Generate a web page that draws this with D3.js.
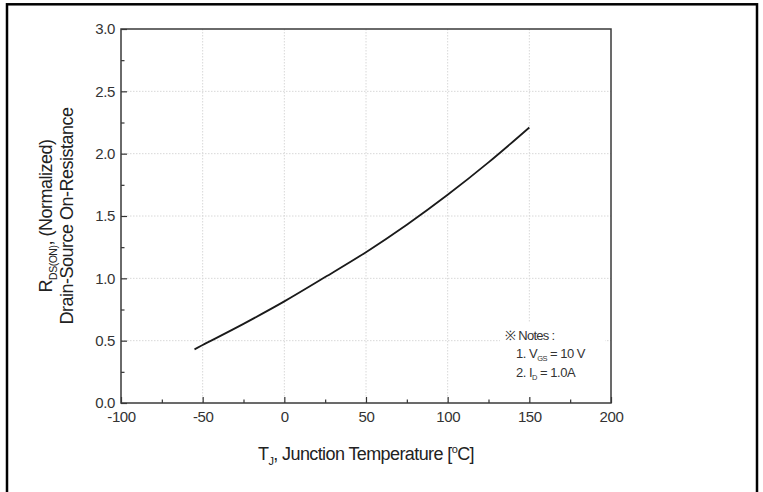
<!DOCTYPE html>
<html>
<head>
<meta charset="utf-8">
<script src="https://cdn.jsdelivr.net/npm/d3@7/dist/d3.min.js"></script>
<style>
  html, body { margin: 0; padding: 0; background: #fff; }
  svg { display: block; }
  text { font-family: "Liberation Sans", Arial, sans-serif; }
</style>
</head>
<body>
<svg id="chart" width="763" height="492"></svg>
<script>
// ---- data ----
const tempC = [-55, -50, -25, 0, 25, 50, 75, 100, 125, 150];
const rdsNorm = [0.43, 0.465, 0.635, 0.815, 1.01, 1.21, 1.43, 1.67, 1.93, 2.21];
const xTicks = [-100, -50, 0, 50, 100, 150, 200];
const yTicks = [0.0, 0.5, 1.0, 1.5, 2.0, 2.5, 3.0];
const xMinor = [-75, -25, 25, 75, 125, 175];
const yMinor = [0.25, 0.75, 1.25, 1.75, 2.25, 2.75];
const noteLines = ["1. V", "2. I"];

const svg = d3.select("#chart");
const m = { left: 121, right: 611, top: 29, bottom: 403 };

const x = d3.scaleLinear().domain([-100, 200]).range([m.left, m.right]);
const y = d3.scaleLinear().domain([0, 3]).range([m.bottom, m.top]);

// outer frame
svg.append("rect").attr("x", 7).attr("y", 4.3).attr("width", 750).attr("height", 520)
  .attr("fill", "none").attr("stroke", "#000").attr("stroke-width", 2.5);

// grid
const grid = svg.append("g").attr("stroke", "#d8d8d8").attr("stroke-width", 1)
  .attr("stroke-dasharray", "1.5,1.5");
grid.selectAll("line.gx").data(xTicks.filter(d => d > -100 && d < 200)).join("line")
  .attr("x1", d => x(d)).attr("x2", d => x(d)).attr("y1", m.top).attr("y2", m.bottom);
grid.selectAll("line.gy").data(yTicks.filter(d => d > 0 && d < 3)).join("line")
  .attr("y1", d => y(d)).attr("y2", d => y(d)).attr("x1", m.left).attr("x2", m.right);

// notes background (covers grid)
svg.append("rect").attr("x", 500).attr("y", 322).attr("width", 105).attr("height", 76)
  .attr("fill", "#fff");

// curve
const line = d3.line().x((d, i) => x(tempC[i])).y(d => y(d)).curve(d3.curveCatmullRom.alpha(0.5));
svg.append("path").datum(rdsNorm).attr("d", line)
  .attr("fill", "none").attr("stroke", "#1a1a1a").attr("stroke-width", 1.8);

// axes with inward ticks
const xAxis = svg.append("g").attr("transform", `translate(0,${m.bottom})`)
  .call(d3.axisBottom(x).tickValues(xTicks).tickSize(-6).tickPadding(11).tickFormat(d => String(d)));
const xAxisMinor = svg.append("g").attr("transform", `translate(0,${m.bottom})`)
  .call(d3.axisBottom(x).tickValues(xMinor).tickSize(-3.5).tickFormat(""));
const yAxis = svg.append("g").attr("transform", `translate(${m.left},0)`)
  .call(d3.axisLeft(y).tickValues(yTicks).tickSize(-6).tickPadding(6).tickFormat(d3.format(".1f")));
const yAxisMinor = svg.append("g").attr("transform", `translate(${m.left},0)`)
  .call(d3.axisLeft(y).tickValues(yMinor).tickSize(-3.5).tickFormat(""));

[xAxis, xAxisMinor, yAxis, yAxisMinor].forEach(g => {
  g.attr("font-size", null).attr("font-family", null);
  g.select(".domain").remove();
  g.selectAll(".tick line").attr("stroke", "#333").attr("stroke-width", 1.2);
  g.selectAll(".tick text").attr("fill", "#333")
    .style("font-size", "15px")
    .style("letter-spacing", "-0.4px")
    .style("font-family", "'Liberation Sans', Arial, sans-serif");
});
xAxis.selectAll(".tick text").attr("dy", "0.5em");

// plot frame
svg.append("rect").attr("x", m.left).attr("y", m.top)
  .attr("width", m.right - m.left).attr("height", m.bottom - m.top)
  .attr("fill", "none").attr("stroke", "#3a3a3a").attr("stroke-width", 1.5);

// x axis title
const xt = svg.append("text").attr("x", (m.left + m.right) / 2).attr("y", 460)
  .attr("text-anchor", "middle").attr("font-size", 18).attr("fill", "#222")
  .attr("letter-spacing", "-0.6px");
xt.append("tspan").text("T");
xt.append("tspan").attr("font-size", 11).attr("dy", 5).text("J");
xt.append("tspan").attr("dy", -5).text(", Junction Temperature [");
xt.append("tspan").attr("font-size", 11).attr("dy", -7).text("o");
xt.append("tspan").attr("dy", 7).text("C]");

// y axis title (two lines, rotated)
const cy = (m.top + m.bottom) / 2;
const yt1 = svg.append("text").attr("transform", `translate(52,${cy}) rotate(-90)`)
  .attr("text-anchor", "middle").attr("font-size", 18).attr("fill", "#222")
  .attr("letter-spacing", "-0.5px");
yt1.append("tspan").text("R");
yt1.append("tspan").attr("font-size", 10.5).attr("dy", 5).text("DS(ON)");
yt1.append("tspan").attr("dy", -5).text(", (Normalized)");
svg.append("text").attr("transform", `translate(73,${cy}) rotate(-90)`)
  .attr("text-anchor", "middle").attr("font-size", 18).attr("fill", "#222")
  .attr("letter-spacing", "-0.5px")
  .text("Drain-Source On-Resistance");

// notes
const nf = 13;
svg.append("text").attr("x", 505).attr("y", 340).attr("font-size", nf).attr("fill", "#333")
  .attr("letter-spacing", "-0.7px").text("※ Notes :");
const n1 = svg.append("text").attr("x", 516).attr("y", 358).attr("font-size", nf).attr("fill", "#333")
  .attr("letter-spacing", "-0.5px");
n1.append("tspan").text(noteLines[0]);
n1.append("tspan").attr("font-size", 7.5).attr("dy", 3).text("GS");
n1.append("tspan").attr("dy", -3).text(" = 10 V");
const n2 = svg.append("text").attr("x", 516).attr("y", 377).attr("font-size", nf).attr("fill", "#333")
  .attr("letter-spacing", "-0.5px");
n2.append("tspan").text(noteLines[1]);
n2.append("tspan").attr("font-size", 7.5).attr("dy", 3).text("D");
n2.append("tspan").attr("dy", -3).text(" = 1.0A");
</script>
</body>
</html>
